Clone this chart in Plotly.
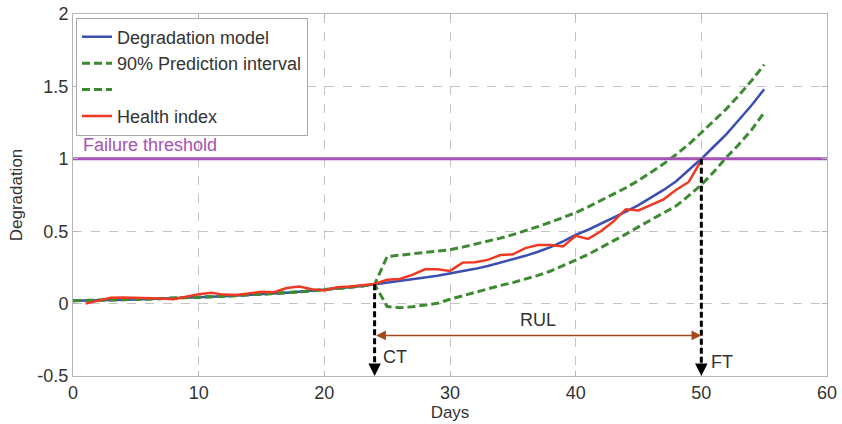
import plotly.graph_objects as go

# ---------------- data ----------------
model_days = list(range(0, 56))
model_vals = [0.020, 0.021, 0.023, 0.025, 0.027, 0.029, 0.032, 0.034, 0.037, 0.040,
              0.043, 0.047, 0.051, 0.055, 0.059, 0.064, 0.069, 0.075, 0.081, 0.088,
              0.095, 0.103, 0.112, 0.122, 0.133, 0.143, 0.155, 0.167, 0.180, 0.193,
              0.207, 0.222, 0.240, 0.260, 0.282, 0.305, 0.330, 0.358, 0.390, 0.430,
              0.475, 0.510, 0.550, 0.590, 0.635, 0.680, 0.730, 0.785, 0.845, 0.920,
              1.000, 1.085, 1.170, 1.270, 1.370, 1.480]

pi_days = list(range(0, 56))
pi_upper = [0.020, 0.021, 0.023, 0.025, 0.027, 0.029, 0.032, 0.034, 0.037, 0.040,
            0.043, 0.047, 0.051, 0.055, 0.059, 0.064, 0.069, 0.075, 0.081, 0.088,
            0.095, 0.103, 0.112, 0.122, 0.133,
            0.325, 0.335, 0.345, 0.354, 0.363, 0.372, 0.390, 0.410, 0.430, 0.452,
            0.476, 0.502, 0.532, 0.562, 0.593, 0.628, 0.668, 0.712, 0.757, 0.800,
            0.850, 0.905, 0.965, 1.030, 1.100, 1.180, 1.260, 1.345, 1.440, 1.540,
            1.650]
pi_lower = [0.020, 0.021, 0.023, 0.025, 0.027, 0.029, 0.032, 0.034, 0.037, 0.040,
            0.043, 0.047, 0.051, 0.055, 0.059, 0.064, 0.069, 0.075, 0.081, 0.088,
            0.095, 0.103, 0.112, 0.122, 0.133,
            -0.020, -0.028, -0.022, -0.012, 0.002, 0.030, 0.055, 0.080, 0.105, 0.125,
            0.145, 0.168, 0.195, 0.225, 0.260, 0.300, 0.340, 0.385, 0.430, 0.480,
            0.530, 0.580, 0.625, 0.675, 0.745, 0.820, 0.910, 1.010, 1.100, 1.200,
            1.320]

hi_days = list(range(1, 51))
hi_vals = [0.000, 0.020, 0.040, 0.042, 0.040, 0.040, 0.035, 0.030, 0.045, 0.065,
           0.074, 0.062, 0.060, 0.072, 0.082, 0.079, 0.108, 0.118, 0.100, 0.090,
           0.113, 0.118, 0.125, 0.135, 0.164, 0.170, 0.198, 0.237, 0.237, 0.226,
           0.283, 0.285, 0.302, 0.335, 0.340, 0.383, 0.405, 0.405, 0.394, 0.468,
           0.447, 0.500, 0.567, 0.652, 0.643, 0.682, 0.720, 0.786, 0.840, 0.990]

failure_threshold = 1.0
ct_day = 24
ft_day = 50
rul_level = -0.22

x_ticks = [0, 10, 20, 30, 40, 50, 60]
y_ticks = [-0.5, 0, 0.5, 1, 1.5, 2]
y_tick_text = ["-0.5", "0", "0.5", "1", "1.5", "2"]

# ---------------- styling ----------------
FONT = "Liberation Sans, Arial, sans-serif"
BLUE = "#3B4FB3"
GREEN = "#3D8A33"
RED = "#EE3A24"
PURPLE = "#A552B8"
BROWN = "#A4471E"
TXT = "#333333"

fig = go.Figure()
fig.add_trace(go.Scatter(x=model_days, y=model_vals, mode="lines", name="Degradation model",
                         line=dict(color=BLUE, width=2.5)))
fig.add_trace(go.Scatter(x=pi_days, y=pi_upper, mode="lines", name="90% Prediction interval",
                         line=dict(color=GREEN, width=3, dash="8px,4px")))
fig.add_trace(go.Scatter(x=pi_days, y=pi_lower, mode="lines", name=" ",
                         line=dict(color=GREEN, width=3, dash="8px,4px")))
fig.add_trace(go.Scatter(x=hi_days, y=hi_vals, mode="lines", name="Health index",
                         line=dict(color=RED, width=2.5)))
fig.add_trace(go.Scatter(x=[x_ticks[0], x_ticks[-1]], y=[failure_threshold, failure_threshold],
                         mode="lines", showlegend=False, line=dict(color=PURPLE, width=3)))

ct_val = model_vals[model_days.index(ct_day)]
ft_val = failure_threshold
ymin = y_ticks[0]

# dashed vertical markers
for xd, yv in [(ct_day, ct_val), (ft_day, ft_val)]:
    fig.add_shape(type="line", x0=xd, x1=xd, y0=yv, y1=ymin + 0.06, xref="x", yref="y",
                  line=dict(color="black", width=3, dash="6px,3px"))
    fig.add_annotation(x=xd, y=ymin, ax=xd, ay=ymin + 0.08, xref="x", yref="y",
                       axref="x", ayref="y", text="", showarrow=True,
                       arrowhead=2, arrowsize=1.0, arrowwidth=2.5, arrowcolor="black")

# RUL double arrow
fig.add_annotation(x=ft_day, y=rul_level, ax=ct_day, ay=rul_level, xref="x", yref="y",
                   axref="x", ayref="y", text="", showarrow=True,
                   arrowhead=2, startarrowhead=2, arrowside="end+start",
                   arrowsize=1.3, arrowwidth=1.5, arrowcolor=BROWN)

fig.add_annotation(x=(ct_day + ft_day) / 2, y=rul_level, text="RUL", showarrow=False,
                   yanchor="bottom", yshift=3, font=dict(size=18, color=TXT, family=FONT))
fig.add_annotation(x=ct_day, y=-0.37, text="CT", showarrow=False, xanchor="left", xshift=6,
                   font=dict(size=18, color=TXT, family=FONT))
fig.add_annotation(x=ft_day, y=-0.40, text="FT", showarrow=False, xanchor="left", xshift=8,
                   font=dict(size=18, color=TXT, family=FONT))
fig.add_annotation(x=0.6, y=failure_threshold, text="Failure threshold", showarrow=False,
                   xanchor="left", yanchor="bottom", yshift=2,
                   font=dict(size=18, color=PURPLE, family=FONT))

axis_common = dict(showline=True, linecolor="#b5b5b5", linewidth=1, mirror="ticks",
                   ticks="inside", ticklen=5, tickcolor="#b5b5b5",
                   showgrid=True, gridcolor="#c4c4c4", griddash="dash", gridwidth=1,
                   zeroline=False, automargin=False,
                   tickfont=dict(size=18, color=TXT, family=FONT))

fig.update_layout(
    width=842, height=424,
    margin=dict(l=73, r=15, t=14, b=48),
    paper_bgcolor="white", plot_bgcolor="white",
    font=dict(family=FONT, color=TXT),
    showlegend=True,
    legend=dict(x=0.004, y=0.99, xanchor="left", yanchor="top",
                bordercolor="#a8a8a8", borderwidth=1, bgcolor="white",
                font=dict(size=18, color=TXT, family=FONT), itemwidth=30,
                tracegroupgap=0),
    xaxis=dict(range=[x_ticks[0], x_ticks[-1]], tickvals=x_ticks,
               title=dict(text="Days", font=dict(size=17, color=TXT, family=FONT), standoff=2),
               **axis_common),
    yaxis=dict(range=[y_ticks[0], y_ticks[-1]], tickvals=y_ticks, ticktext=y_tick_text,
               title=dict(text="Degradation", font=dict(size=17, color=TXT, family=FONT), standoff=10),
               **axis_common),
)

fig.write_html("out.html")
